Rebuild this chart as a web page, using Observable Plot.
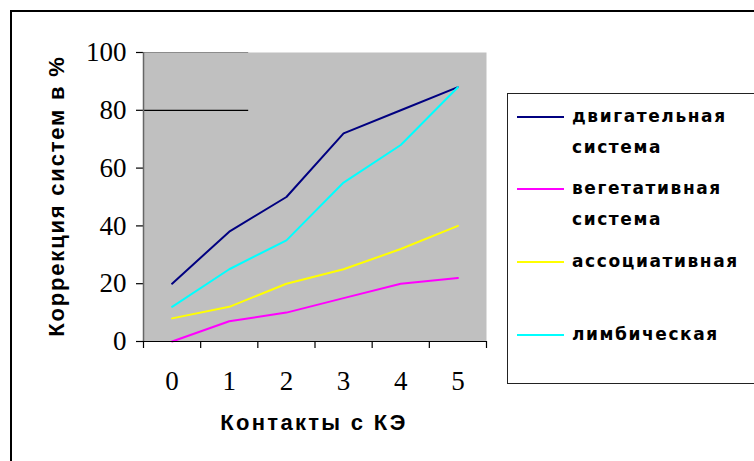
<!DOCTYPE html>
<html><head><meta charset="utf-8">
<script src="https://cdn.jsdelivr.net/npm/d3@7"></script>
<script src="https://cdn.jsdelivr.net/npm/@observablehq/plot@0.6"></script>
<style>
body{margin:0;background:#fff;}
#wrap{position:relative;width:754px;height:461px;overflow:hidden;background:#fff;}
#frame{position:absolute;left:10px;top:10px;width:800px;height:500px;border:2.5px solid #000;box-sizing:border-box;pointer-events:none;}
#legend{position:absolute;left:507px;top:93px;width:260px;height:291px;border:1.5px solid #222;box-sizing:border-box;background:#fff;}
.sw{position:absolute;left:9px;width:47px;height:2px;}
.lt{position:absolute;left:64px;font-family:"DejaVu Sans",sans-serif;font-weight:bold;font-size:17px;letter-spacing:1.6px;white-space:nowrap;line-height:20px;}
#ytitle{position:absolute;left:57px;top:196px;transform:translate(-50%,-50%) rotate(-90deg);font-family:"Liberation Sans",sans-serif;font-weight:bold;font-size:22px;letter-spacing:1.8px;white-space:nowrap;}
#xtitle{position:absolute;left:314px;top:423px;transform:translate(-50%,-50%);font-family:"Liberation Sans",sans-serif;font-weight:bold;font-size:22px;letter-spacing:2.3px;white-space:nowrap;}
</style></head><body><div id="wrap"></div><script>
const contacts = [0, 1, 2, 3, 4, 5];
const motor = [20, 38, 50, 72, 80, 88];
const vegetative = [0, 7, 10, 15, 20, 22];
const associative = [8, 12, 20, 25, 32, 40];
const limbic = [12, 25, 35, 55, 68, 88];
const seriesNames = ["двигательная система", "вегетативная система", "ассоциативная", "лимбическая"];
const seriesLegendLines = [["двигательная", "система"], ["вегетативная", "система"], ["ассоциативная"], ["лимбическая"]];
const seriesColors = ["#000080", "#ff00ff", "#ffff00", "#00ffff"];
const yTicks = [0, 20, 40, 60, 80, 100];
const xEdges = [-0.5, 0.5, 1.5, 2.5, 3.5, 4.5, 5.5];
// stray gridline fragments seen in the original picture
const strayY = [100, 80];
const strayColors = ["#8c8c8c", "#000000"];
const strayX1 = -0.5, strayX2 = 1.34;

const seriesValues = [motor, vegetative, associative, limbic];
const rows = [];
seriesValues.forEach((vals, i) => contacts.forEach((c, j) => rows.push({x: c, y: vals[j], series: seriesNames[i]})));
const strays = strayY.map((y, i) => ({y, x1: strayX1, x2: strayX2, c: strayColors[i]}));

const plot = Plot.plot({
  width: 754, height: 461,
  marginLeft: 143, marginRight: 268, marginTop: 52, marginBottom: 120,
  style: {background: "transparent", fontFamily: "'Liberation Serif', serif", fontSize: "27px", color: "#000"},
  x: {type: "linear", domain: [-0.5, 5.5]},
  y: {domain: [0, 100]},
  color: {domain: seriesNames, range: seriesColors},
  marks: [
    Plot.frame({fill: "#c0c0c0"}),
    Plot.ruleY(strays, {y: "y", x1: "x1", x2: "x2", stroke: "c", strokeWidth: 1.2}),
    Plot.line(rows, {x: "x", y: "y", z: "series", stroke: "series", strokeWidth: 2}),
    Plot.axisX({ticks: xEdges, tickSize: 7, tickFormat: () => "", label: null, strokeWidth: 1.2}),
    Plot.axisX({ticks: contacts, tickSize: 0, tickPadding: 29, tickFormat: d3.format("d"), label: null, fontSize: 27}),
    Plot.axisY({ticks: yTicks, tickSize: 7, tickPadding: 10, tickFormat: d3.format("d"), label: null, fontSize: 27, strokeWidth: 1.2}),
    Plot.ruleX([-0.5], {stroke: "#666", strokeWidth: 1.5}),
    Plot.ruleY([0], {stroke: "#000", strokeWidth: 1.2})
  ]
});

const wrap = document.getElementById("wrap");
wrap.appendChild(plot);
plot.style.position = "absolute"; plot.style.left = "0"; plot.style.top = "0";

const yt = document.createElement("div"); yt.id = "ytitle"; yt.textContent = "Коррекция систем в %"; wrap.appendChild(yt);
const xt = document.createElement("div"); xt.id = "xtitle"; xt.textContent = "Контакты с КЭ"; wrap.appendChild(xt);

const legend = document.createElement("div"); legend.id = "legend";
const legendY = [23, 95, 168, 241];
seriesLegendLines.forEach((lines, i) => {
  const sw = document.createElement("div"); sw.className = "sw";
  sw.style.top = (legendY[i] - 1) + "px"; sw.style.background = seriesColors[i];
  legend.appendChild(sw);
  lines.forEach((t, k) => {
    const d = document.createElement("div"); d.className = "lt";
    d.style.top = (legendY[i] - 11 + k * 31) + "px"; d.textContent = t;
    legend.appendChild(d);
  });
});
wrap.appendChild(legend);
const fr = document.createElement("div"); fr.id = "frame"; wrap.appendChild(fr);
</script></body></html>
